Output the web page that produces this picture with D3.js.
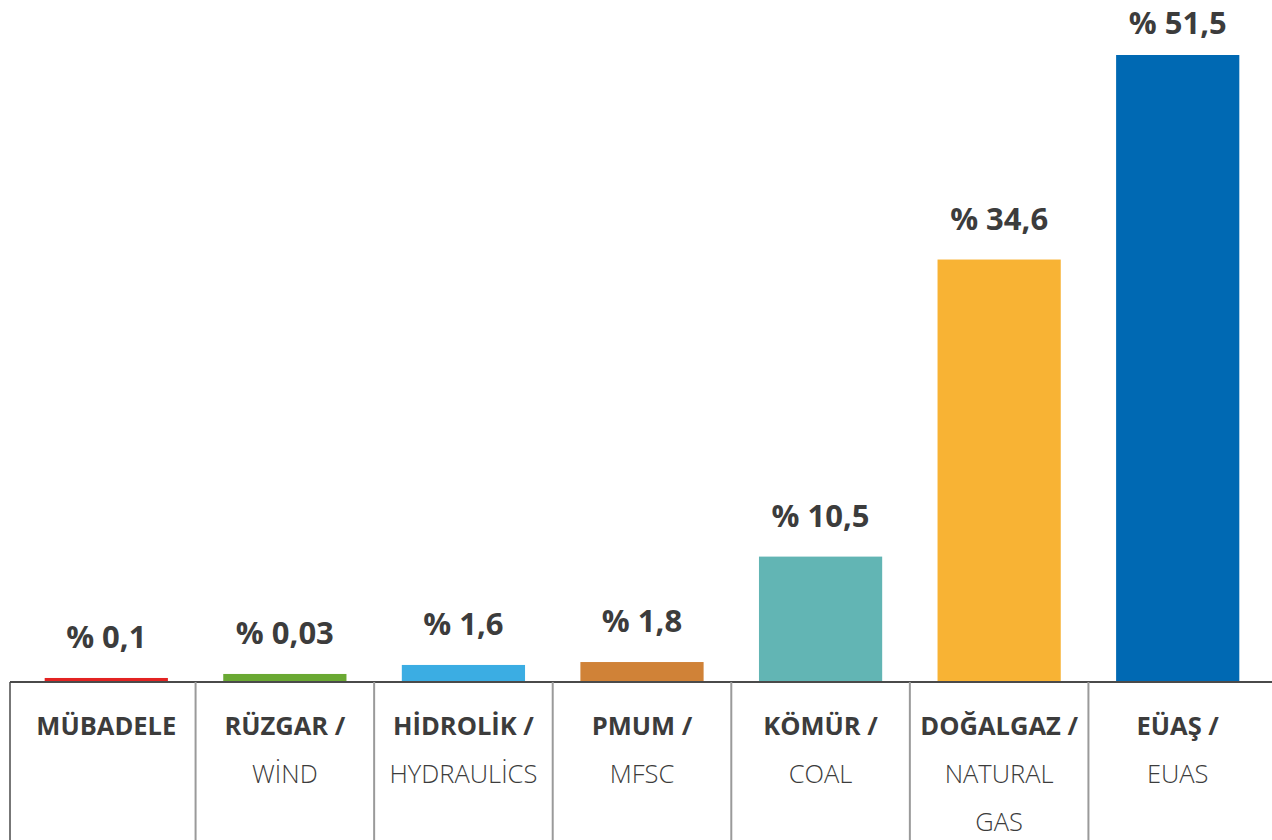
<!DOCTYPE html>
<html>
<head>
<meta charset="utf-8">
<script src="https://cdn.jsdelivr.net/npm/d3@7"></script>
<style>
  html, body { margin: 0; padding: 0; background: #fff; }
  svg { display: block; }
  text { font-family: "Open Sans", "Noto Sans", sans-serif; fill: #3c3c3c; }
</style>
</head>
<body>
<svg id="chart" width="1272" height="840"></svg>
<script>
// ---- data ----
const categoriesTR = ["MÜBADELE", "RÜZGAR /", "HİDROLİK /", "PMUM /", "KÖMÜR /", "DOĞALGAZ /", "EÜAŞ /"];
const categoriesEN = [[], ["WİND"], ["HYDRAULİCS"], ["MFSC"], ["COAL"], ["NATURAL", "GAS"], ["EUAS"]];
const shareText = ["0,1", "0,03", "1,6", "1,8", "10,5", "34,6", "51,5"];
const barValues = [0.33, 0.66, 1.4, 1.64, 10.3, 34.7, 51.5];
const barColors = ["#e32322", "#6aa933", "#3bade3", "#d08237", "#62b5b4", "#f8b334", "#0069b3"];

// ---- layout ----
const W = 1272, H = 840;
const baseY = 682;
const svg = d3.select("#chart");
const idx = d3.range(categoriesTR.length);

const x = d3.scaleBand().domain(idx).range([17, 1267]).paddingInner(0.31).paddingOuter(0.155);
const y = d3.scaleLinear().domain([0, 51.5]).range([baseY, 55]);

// bars
svg.append("g").selectAll("rect").data(idx).join("rect")
  .attr("x", i => x(i))
  .attr("width", x.bandwidth())
  .attr("y", i => y(barValues[i]))
  .attr("height", i => baseY - y(barValues[i]))
  .attr("fill", i => barColors[i]);

// value labels
svg.append("g").selectAll("text").data(idx).join("text")
  .attr("x", i => x(i) + x.bandwidth() / 2)
  .attr("y", i => Math.max(y(barValues[i]) - 30, 34))
  .attr("text-anchor", "middle")
  .attr("font-size", 31)
  .attr("font-weight", 700)
  .text(i => "% " + shareText[i]);

// table lines
const step = x.step();
const x0 = x.range()[0];
svg.append("line")
  .attr("x1", 10).attr("x2", W).attr("y1", baseY).attr("y2", baseY)
  .attr("stroke", "#4a4a4a").attr("stroke-width", 2);
svg.append("line")
  .attr("x1", 10).attr("x2", 10).attr("y1", baseY).attr("y2", H)
  .attr("stroke", "#4a4a4a").attr("stroke-width", 1.5);
svg.append("g").selectAll("line").data(idx.slice(1)).join("line")
  .attr("x1", i => x0 + i * step).attr("x2", i => x0 + i * step)
  .attr("y1", baseY).attr("y2", H)
  .attr("stroke", "#9a9a9a").attr("stroke-width", 2);

// category labels
const lab = svg.append("g").selectAll("g").data(idx).join("g")
  .attr("transform", i => `translate(${x(i) + x.bandwidth() / 2},0)`);
lab.append("text")
  .attr("y", 735)
  .attr("text-anchor", "middle")
  .attr("font-size", 25.5)
  .attr("font-weight", 700)
  .text(i => categoriesTR[i]);
lab.each(function(i) {
  d3.select(this).selectAll("text.en").data(categoriesEN[i]).join("text")
    .attr("class", "en")
    .attr("y", (d, k) => 783 + k * 48)
    .attr("text-anchor", "middle")
    .attr("font-size", 25.5)
    .attr("font-weight", 300)
    .text(d => d);
});
</script>
</body>
</html>
